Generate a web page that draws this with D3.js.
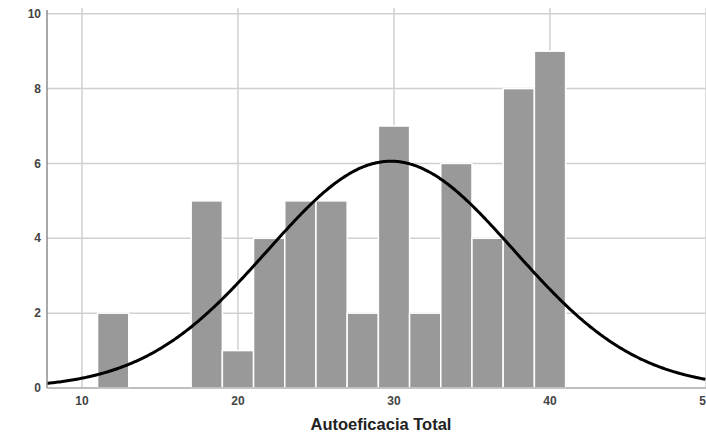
<!DOCTYPE html>
<html><head><meta charset="utf-8">
<script src="https://cdn.jsdelivr.net/npm/d3@7"></script>
<style>body{margin:0;background:#fff}svg{display:block}</style>
</head><body>
<script>
const binStarts = [11,13,15,17,19,21,23,25,27,29,31,33,35,37,39];
const counts    = [2,0,0,5,1,4,5,5,2,7,2,6,4,8,9];
const binWidth = 2;
const xTicks = [10,20,30,40,50];
const yTicks = [0,2,4,6,8,10];
const meanVal = 29.8, sdVal = 7.9;
const xTitle = "Autoeficacia Total";

const W=706,H=434;
const m={left:47,right:0,top:10,bottom:46};
const svg=d3.select("body").append("svg").attr("width",W).attr("height",H);
const x=d3.scaleLinear().domain([7.76,50]).range([m.left,W-m.right]);
const y=d3.scaleLinear().domain([0,10.1]).range([H-m.bottom,m.top]);

// grid
svg.append("g").selectAll("line").data(yTicks).join("line")
  .attr("x1",m.left).attr("x2",W).attr("y1",d=>y(d)).attr("y2",d=>y(d))
  .attr("stroke","#d0d0d0").attr("stroke-width",1.5);
svg.append("g").selectAll("line").data(xTicks).join("line")
  .attr("x1",d=>x(d)).attr("x2",d=>x(d)).attr("y1",y(0)).attr("y2",m.top-2)
  .attr("stroke","#d0d0d0").attr("stroke-width",1.5);

// bars
const data=binStarts.map((s,i)=>({s,c:counts[i]})).filter(d=>d.c>0);
svg.append("g").selectAll("rect").data(data).join("rect")
  .attr("x",d=>x(d.s)).attr("width",d=>x(d.s+binWidth)-x(d.s))
  .attr("y",d=>y(d.c)).attr("height",d=>y(0)-y(d.c))
  .attr("fill","#999999").attr("stroke","#ffffff").attr("stroke-width",1.5);

// normal curve
const N=d3.sum(counts);
const pts=d3.range(7.76,50.001,0.1).map(v=>[v,N*binWidth/(sdVal*Math.sqrt(2*Math.PI))*Math.exp(-0.5*((v-meanVal)/sdVal)**2)]);
svg.append("path").datum(pts)
  .attr("d",d3.line().x(d=>x(d[0])).y(d=>y(d[1])).curve(d3.curveBasis))
  .attr("fill","none").attr("stroke","#000").attr("stroke-width",3);

// axes lines
svg.append("line").attr("x1",m.left).attr("x2",m.left).attr("y1",m.top).attr("y2",y(0))
  .attr("stroke","#8c8c8c").attr("stroke-width",1.5);
svg.append("line").attr("x1",m.left).attr("x2",W).attr("y1",y(0)).attr("y2",y(0))
  .attr("stroke","#b5b5b5").attr("stroke-width",1.5);

// tick labels
svg.append("g").selectAll("text").data(yTicks).join("text")
  .attr("x",m.left-6).attr("y",d=>y(d)).attr("dy","0.35em").attr("text-anchor","end")
  .attr("font-family","Liberation Sans, Arial, sans-serif").attr("font-size",12).attr("font-weight","bold")
  .attr("fill","#444").text(d=>d);
svg.append("g").selectAll("text").data(xTicks).join("text")
  .attr("x",d=>x(d)).attr("y",y(0)+17).attr("text-anchor","middle")
  .attr("font-family","Liberation Sans, Arial, sans-serif").attr("font-size",12).attr("font-weight","bold")
  .attr("fill","#444").text(d=>d);

svg.append("text").attr("x",381).attr("y",430).attr("text-anchor","middle")
  .attr("font-family","Liberation Sans, Arial, sans-serif").attr("font-size",16.5).attr("font-weight","bold")
  .attr("fill","#222").text(xTitle);
</script>
</body></html>
